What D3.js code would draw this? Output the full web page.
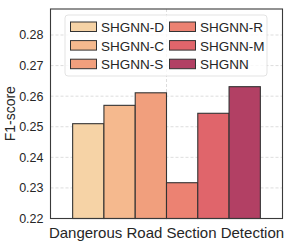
<!DOCTYPE html>
<html>
<head>
<meta charset="utf-8">
<script src="https://d3js.org/d3.v7.min.js"></script>
<style>
  body { margin: 0; background: #fff; }
  text { font-family: "Liberation Sans", Arial, sans-serif; fill: #262626; }
</style>
</head>
<body>
<script>

  var tasks = ["Dangerous Road Section Detection"];
  var models = ["SHGNN-D", "SHGNN-C", "SHGNN-S", "SHGNN-R", "SHGNN-M", "SHGNN"];
  var scores = [0.2510, 0.2570, 0.2611, 0.2317, 0.2544, 0.2631];
  var colors = ["#f6d3a6", "#f5b98e", "#f19f7d", "#ec8272", "#e0656b", "#b24064"];
  var yTicks = [0.22, 0.23, 0.24, 0.25, 0.26, 0.27, 0.28];

  var width = 291, height = 245;
  var margin = {left: 50.5, right: 8.5, top: 9, bottom: 26.5};

  var svg = d3.select("body").append("svg")
    .attr("width", width)
    .attr("height", height);

  var x0 = d3.scaleBand()
    .domain(tasks)
    .range([margin.left, width - margin.right])
    .paddingInner(0)
    .paddingOuter(0.118);

  var x1 = d3.scaleBand()
    .domain(models)
    .range([0, x0.bandwidth()]);

  var y = d3.scaleLinear()
    .domain([0.22, 0.2885])
    .range([height - margin.bottom, margin.top]);

  // grid
  svg.append("g")
    .selectAll("line")
    .data(yTicks.slice(1))
    .enter().append("line")
    .attr("x1", margin.left)
    .attr("x2", width - margin.right)
    .attr("y1", function(d) { return y(d); })
    .attr("y2", function(d) { return y(d); })
    .attr("stroke", "#d4d4d4")
    .attr("stroke-width", 0.8)
    .attr("stroke-dasharray", "3,2");

  svg.append("line")
    .attr("x1", x0(tasks[0]) + x0.bandwidth() / 2)
    .attr("x2", x0(tasks[0]) + x0.bandwidth() / 2)
    .attr("y1", margin.top)
    .attr("y2", height - margin.bottom)
    .attr("stroke", "#d4d4d4")
    .attr("stroke-width", 0.8)
    .attr("stroke-dasharray", "3,2");

  // bars
  svg.append("g")
    .selectAll("rect")
    .data(models)
    .enter().append("rect")
    .attr("x", function(d) { return x0(tasks[0]) + x1(d); })
    .attr("y", function(d, i) { return y(scores[i]); })
    .attr("width", x1.bandwidth())
    .attr("height", function(d, i) { return y(0.22) - y(scores[i]); })
    .attr("fill", function(d, i) { return colors[i]; })
    .attr("stroke", "#333")
    .attr("stroke-width", 1.1);

  // y axis labels
  var yAxis = d3.axisLeft(y)
    .tickValues(yTicks)
    .tickSize(0)
    .tickPadding(7)
    .tickFormat(d3.format(".2f"));

  var gy = svg.append("g")
    .attr("transform", "translate(" + margin.left + ",0)")
    .call(yAxis);
  gy.select(".domain").remove();
  gy.selectAll("text")
    .style("font-size", "12.5px")
    .style("font-family", "Liberation Sans, Arial, sans-serif")
    .attr("fill", "#262626");

  var xAxis = d3.axisBottom(x0).tickSize(0).tickPadding(8.5);
  var gx = svg.append("g")
    .attr("transform", "translate(0," + (height - margin.bottom) + ")")
    .call(xAxis);
  gx.select(".domain").remove();
  gx.selectAll("text")
    .style("font-size", "15px")
    .style("font-family", "Liberation Sans, Arial, sans-serif")
    .attr("fill", "#262626");

  // frame
  svg.append("rect")
    .attr("x", margin.left)
    .attr("y", margin.top)
    .attr("width", width - margin.left - margin.right)
    .attr("height", height - margin.top - margin.bottom)
    .attr("fill", "none")
    .attr("stroke", "#3a3a3a")
    .attr("stroke-width", 1.1);

  svg.append("text")
    .attr("transform", "translate(14.5," + ((margin.top + height - margin.bottom) / 2) + ") rotate(-90)")
    .attr("text-anchor", "middle")
    .style("font-size", "14px")
    .text("F1-score");

  // legend
  var legend = svg.append("g").attr("transform", "translate(65,15)");
  legend.append("rect")
    .attr("width", 202)
    .attr("height", 61)
    .attr("rx", 3)
    .attr("fill", "#fff")
    .attr("fill-opacity", 0.8)
    .attr("stroke", "#dcdcdc")
    .attr("stroke-width", 0.8);

  var items = legend.selectAll("g.item")
    .data(models)
    .enter().append("g")
    .attr("class", "item")
    .attr("transform", function(d, i) {
      var col = Math.floor(i / 3), row = i % 3;
      return "translate(" + (5.5 + col * 99) + "," + (7 + row * 18.6) + ")";
    });

  items.append("rect")
    .attr("width", 26)
    .attr("height", 9.5)
    .attr("fill", function(d, i) { return colors[i]; })
    .attr("stroke", "#333")
    .attr("stroke-width", 1);

  items.append("text")
    .attr("x", 30.5)
    .attr("y", 10)
    .style("font-size", "13.5px")
    .text(function(d) { return d; });

</script>
</body>
</html>
